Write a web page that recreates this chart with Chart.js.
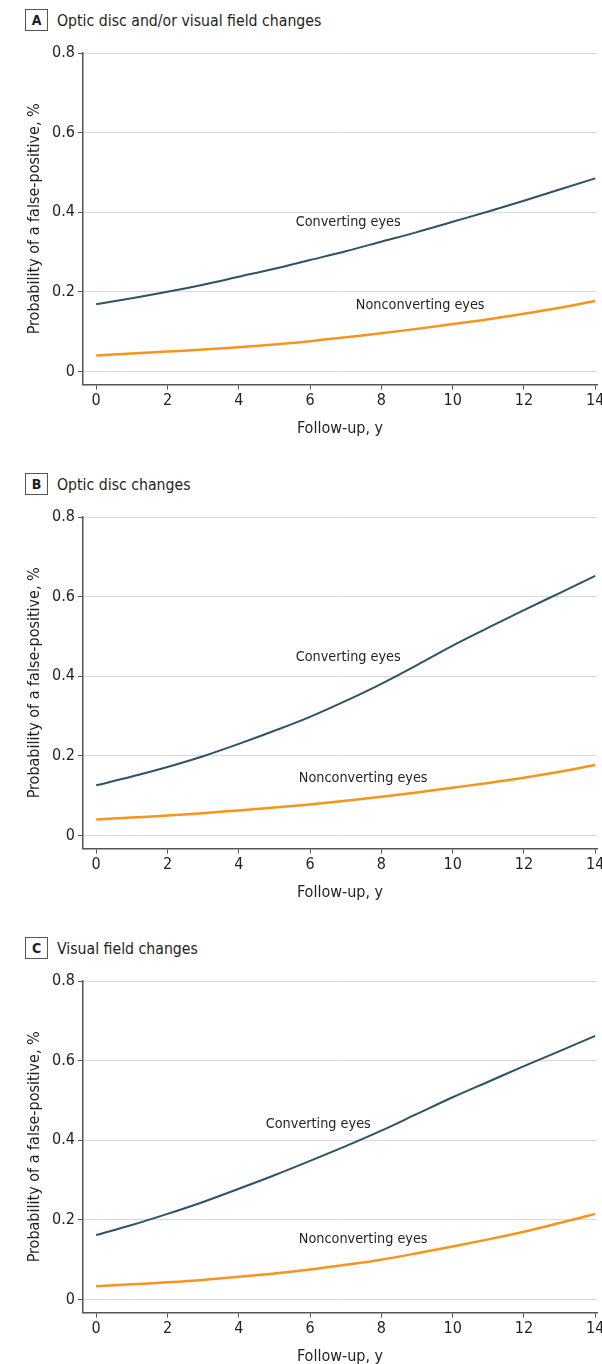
<!DOCTYPE html>
<html>
<head>
<meta charset="utf-8">
<script src="https://cdn.jsdelivr.net/npm/chart.js@4.4.1/dist/chart.umd.min.js"></script>
<style>
  body { margin: 0; background: #fff; width: 602px; height: 1364px; overflow: hidden;
         font-family: "Liberation Sans Narrow", "DejaVu Sans Condensed", "Liberation Sans", sans-serif; color: #231f20; }
  .panel { position: absolute; left: 0; width: 602px; height: 464px; }
  .head { position: absolute; left: 25px; top: 9px; height: 22px; display: flex; align-items: center; }
  .tag { width: 21px; height: 20px; border: 1px solid #555; font-weight: bold; font-size: 14px;
         display: flex; align-items: center; justify-content: center; margin-right: 9px; }
  .htext { font-size: 15.7px; }
  canvas { position: absolute; left: 0; top: 0; }
</style>
</head>
<body>
<div class="panel" style="top:0px"><div class="head"><div class="tag">A</div><div class="htext">Optic disc and/or visual field changes</div></div><canvas id="chartA" width="602" height="440"></canvas></div>
<div class="panel" style="top:464px"><div class="head"><div class="tag">B</div><div class="htext">Optic disc changes</div></div><canvas id="chartB" width="602" height="440"></canvas></div>
<div class="panel" style="top:928px"><div class="head"><div class="tag">C</div><div class="htext">Visual field changes</div></div><canvas id="chartC" width="602" height="440"></canvas></div>
<script>
// follow-up years
const years = [0, 1, 2, 3, 4, 5, 6, 7, 8, 9, 10, 11, 12, 13, 14];
const yTicks = [0, 0.2, 0.4, 0.6, 0.8];
const xTicks = [0, 2, 4, 6, 8, 10, 12, 14];

// A: optic disc and/or visual field
const convA = [0.169, 0.184, 0.200, 0.218, 0.238, 0.258, 0.280, 0.302, 0.326, 0.350, 0.376, 0.402, 0.429, 0.457, 0.485];
const nonA  = [0.040, 0.045, 0.050, 0.055, 0.061, 0.068, 0.076, 0.086, 0.096, 0.107, 0.119, 0.131, 0.145, 0.160, 0.177];
// B: optic disc
const convB = [0.126, 0.148, 0.172, 0.199, 0.230, 0.263, 0.298, 0.338, 0.381, 0.428, 0.477, 0.522, 0.566, 0.609, 0.652];
const nonB  = [0.040, 0.045, 0.050, 0.056, 0.063, 0.070, 0.078, 0.087, 0.097, 0.108, 0.120, 0.132, 0.145, 0.160, 0.177];
// C: visual field
const convC = [0.162, 0.187, 0.215, 0.245, 0.278, 0.312, 0.348, 0.385, 0.424, 0.466, 0.508, 0.547, 0.586, 0.624, 0.662];
const nonC  = [0.033, 0.038, 0.043, 0.049, 0.057, 0.065, 0.075, 0.087, 0.100, 0.116, 0.133, 0.151, 0.170, 0.192, 0.215];

const FONT = '"Liberation Sans Narrow", "DejaVu Sans Condensed", "Liberation Sans", sans-serif';
const TEXT = '#231f20';

const lineLabels = {
  id: 'lineLabels',
  afterDatasetsDraw(chart, args, opts) {
    const {ctx, scales: {x, y}} = chart;
    ctx.save();
    ctx.font = '14.3px ' + FONT;
    ctx.fillStyle = TEXT;
    ctx.textAlign = 'center';
    ctx.textBaseline = 'middle';
    opts.items.forEach(it => ctx.fillText(it.text, x.getPixelForValue(it.x), y.getPixelForValue(it.y)));
    ctx.restore();
  }
};

function makeChart(id, conv, non, labelPos) {
  new Chart(document.getElementById(id), {
    type: 'line',
    data: {
      datasets: [
        { label: 'Converting eyes', data: years.map((v, i) => ({x: v, y: conv[i]})),
          borderColor: '#2b5566', borderWidth: 2, pointRadius: 0, cubicInterpolationMode: 'monotone', fill: false },
        { label: 'Nonconverting eyes', data: years.map((v, i) => ({x: v, y: non[i]})),
          borderColor: '#f7941d', borderWidth: 2.5, pointRadius: 0, cubicInterpolationMode: 'monotone', fill: false }
      ]
    },
    plugins: [lineLabels],
    options: {
      responsive: false,
      animation: false,
      layout: { padding: { top: 53, right: 5, bottom: 2, left: 0 } },
      plugins: {
        legend: { display: false },
        tooltip: { enabled: false },
        lineLabels: { items: labelPos }
      },
      scales: {
        x: {
          type: 'linear', min: -0.37, max: 14.05,
          afterBuildTicks: s => { s.ticks = xTicks.map(v => ({value: v})); },
          afterFit: s => { s.paddingLeft = 0; s.paddingRight = 0; },
          grid: { drawOnChartArea: false, drawTicks: true, tickLength: 5, tickColor: '#555' },
          border: { display: true, color: '#555', width: 1.5 },
          ticks: { font: { family: FONT, size: 16 }, color: TEXT, padding: 2, maxRotation: 0 },
          title: { display: true, text: 'Follow-up, y', font: { family: FONT, size: 16 }, color: TEXT, padding: { top: 6, bottom: 0 } }
        },
        y: {
          type: 'linear', min: -0.033, max: 0.8,
          afterBuildTicks: s => { s.ticks = yTicks.map(v => ({value: v})); },
          afterFit: s => { s.width = 83; },
          grid: { color: '#d9d9d9', lineWidth: 1, tickLength: 5, tickColor: '#555' },
          border: { display: true, color: '#555', width: 1.5 },
          ticks: { font: { family: FONT, size: 16 }, color: TEXT, padding: 3,
                   callback: v => String(v) },
          title: { display: true, text: 'Probability of a false-positive, %', font: { family: FONT, size: 16 }, color: TEXT, padding: { top: 25, bottom: 0 } }
        }
      }
    }
  });
}

makeChart('chartA', convA, nonA, [
  {text: 'Converting eyes', x: 7.07, y: 0.374},
  {text: 'Nonconverting eyes', x: 9.09, y: 0.167}
]);
makeChart('chartB', convB, nonB, [
  {text: 'Converting eyes', x: 7.07, y: 0.447},
  {text: 'Nonconverting eyes', x: 7.49, y: 0.144}
]);
makeChart('chartC', convC, nonC, [
  {text: 'Converting eyes', x: 6.23, y: 0.439},
  {text: 'Nonconverting eyes', x: 7.49, y: 0.152}
]);
</script>
</body>
</html>
